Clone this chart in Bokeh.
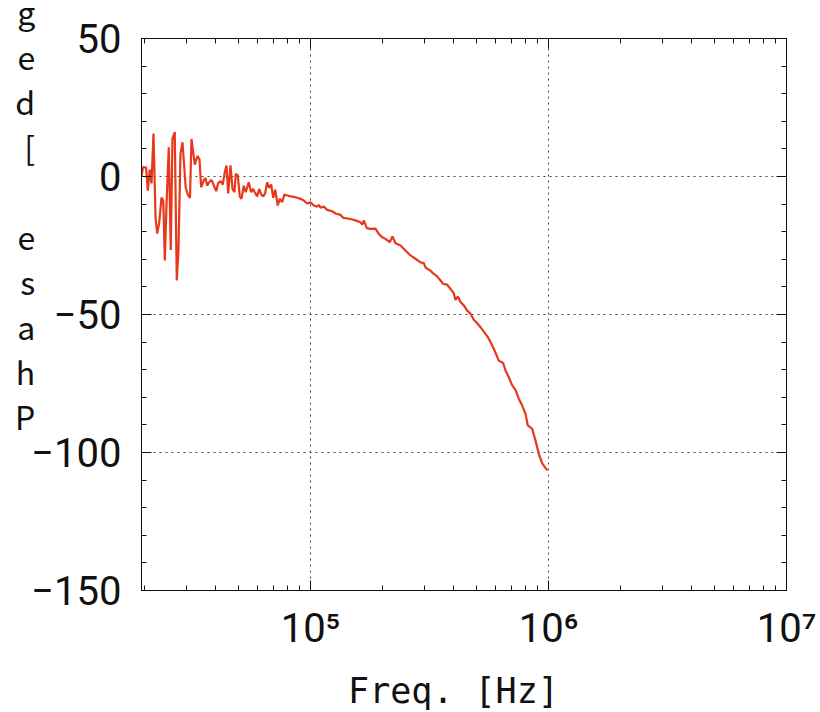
from bokeh.plotting import figure
from bokeh.models import (Range1d, FixedTicker, LogAxis, LinearAxis,
                          CustomJSTickFormatter)
from bokeh.embed import file_html
from bokeh.resources import INLINE

# ---- data ----
freq_hz = [19500, 19790, 20370, 20730, 21110, 21480, 21900, 22330, 22700, 23160,
           23660, 24070, 24430, 24830, 25390, 25880, 26310, 26900, 27430, 27880,
           28430, 28990, 29900, 30510, 31170, 31620, 32650, 33510, 34170, 34730,
           35620, 36210, 36810, 37520, 38370, 39120, 40160, 40940, 41870, 42800,
           43640, 44370, 45100, 46120, 47020, 47940, 48540, 49490, 50460, 51300,
           52450, 53450, 55030, 56330, 57430, 58320, 59700, 60870, 62060, 63270,
           64510, 65770, 67070, 68380, 69720, 71080, 72880, 74300, 76050, 77770,
           80060, 82410, 85080, 87930, 90780, 93700, 96850, 100000, 103250, 106710,
           108370, 110150, 113730, 117560, 123380, 127350, 133670, 137600, 147270, 154570,
           162260, 164960, 167490, 172420, 178680, 187530, 193640, 200120, 206590, 215380,
           221070, 227600, 238880, 250670, 263110, 276170, 289880, 299230, 304200, 309220,
           319270, 329660, 340720, 351820, 360870, 375160, 387350, 399930, 406560, 415700,
           426710, 440570, 455310, 470130, 485460, 501700, 518010, 534850, 555900, 570550,
           589100, 618280, 645190, 659750, 681080, 703880, 726770, 750260, 775370, 800580,
           818660, 854320, 881930, 910620, 940940, 987650]
phase_deg = [0.0, 3.4, 3.3, -5.1, 2.5, -2.5, 15.6, -14.7, -20.7, -16.6,
             -7.6, -8.7, -30.4, -10.5, 10.6, -26.6, 13.7, 16.1, -37.7, -26.8,
             8.2, 12.4, -3.9, -6.5, -7.8, 13.6, 4.3, 7.4, 6.2, -3.9,
             -1.4, -0.5, -3.3, -2.1, -1.2, -2.9, -5.3, -2.4, -1.7, -2.9,
             1.6, 4.0, -6.1, 4.0, -4.5, -5.7, 1.0, 0.4, -7.2, -8.1,
             -3.3, -5.7, -2.1, -5.7, -4.5, -5.7, -7.2, -4.5, -6.5, -7.2,
             -6.1, -2.1, -4.1, -2.9, -7.7, -4.8, -10.5, -8.1, -9.3, -6.5,
             -6.9, -7.2, -7.4, -7.7, -8.1, -8.7, -9.8, -9.3, -10.5, -10.9,
             -10.3, -11.3, -10.9, -12.1, -12.6, -13.4, -13.9, -15.0, -15.4, -15.9,
             -16.6, -17.4, -15.9, -18.7, -19.0, -18.9, -20.8, -22.0, -22.6, -23.8,
             -21.7, -24.2, -25.0, -26.8, -28.6, -29.8, -31.1, -31.4, -32.9, -33.4,
             -34.1, -35.3, -36.2, -37.7, -38.9, -39.2, -40.7, -42.3, -44.7, -43.5,
             -45.5, -46.7, -48.6, -49.7, -51.9, -53.2, -54.6, -56.2, -58.2, -60.0,
             -62.4, -66.7, -67.6, -70.3, -72.7, -75.7, -77.3, -80.5, -83.0, -86.0,
             -90.2, -91.4, -95.7, -100.5, -103.9, -106.5]

x_major = [1e5, 1e6, 1e7]
x_minor = [m * 10 ** e for e in (4, 5, 6) for m in range(2, 10)]
y_major = [-150, -100, -50, 0, 50]
y_minor = list(range(-150, 51, 10))
# y label as shown: letters stacked, reading bottom to top "Phase [deg"
ylabel_top_to_bottom = ["g", "e", "d", "[", " ", "e", "s", "a", "h", "P"]
xlabel = "Freq. [Hz]"

LINE_COLOR = "#e8381b"
TICK_FONT = "Roboto"
TICK_SIZE = "40px"

p = figure(x_axis_type="log", output_backend="svg", toolbar_location=None,
           frame_width=645, frame_height=552,
           min_border_left=141, min_border_top=38, min_border_right=34,
           min_border_bottom=122,
           x_range=Range1d(19500, 1e7), y_range=Range1d(-150, 50))
p.background_fill_color = "white"
p.border_fill_color = "white"
p.outline_line_color = "#111111"
p.outline_line_width = 1

x_ticker = FixedTicker(ticks=x_major, minor_ticks=x_minor)
y_ticker = FixedTicker(ticks=y_major, minor_ticks=y_minor)

x_fmt = CustomJSTickFormatter(code="""
const sup = {"0":"\u2070","1":"\u00b9","2":"\u00b2","3":"\u00b3","4":"\u2074","5":"\u2075","6":"\u2076","7":"\u2077","8":"\u2078","9":"\u2079"};
const e = Math.round(Math.log10(tick));
return "10" + String(e).split("").map(c => sup[c]).join("");
""")
y_fmt = CustomJSTickFormatter(code="""
return tick < 0 ? "\u2212" + Math.abs(tick) : String(tick);
""")


def style_axis(ax, labels=True):
    ax.axis_line_color = "#111111"
    ax.major_tick_line_color = "#111111"
    ax.minor_tick_line_color = "#111111"
    ax.major_tick_in = 10
    ax.major_tick_out = 0
    ax.minor_tick_in = 5
    ax.minor_tick_out = 0
    if labels:
        ax.major_label_text_font = TICK_FONT
        ax.major_label_text_font_size = TICK_SIZE
        ax.major_label_text_color = "#111111"
    else:
        ax.major_label_text_font_size = "0px"
        ax.major_label_text_color = None


xa = p.xaxis[0]
xa.ticker = x_ticker
xa.formatter = x_fmt
style_axis(xa)
xa.major_label_standoff = 14
xa.axis_label = xlabel + "\u00a0"
xa.axis_label_text_font = "DejaVu Sans Mono"
xa.axis_label_text_font_size = "35px"
xa.axis_label_text_font_style = "normal"
xa.axis_label_text_color = "#111111"
xa.axis_label_standoff = 16

# stacked letters: each letter followed by a spacer line (half pitch), plus
# trailing spacer lines so the centred block lands where the reference has it
stacked = []
for ch in ylabel_top_to_bottom:
    stacked += [ch, " "]
stacked = stacked[:-1] + [" "] * 9

ya = p.yaxis[0]
ya.ticker = y_ticker
ya.formatter = y_fmt
style_axis(ya)
ya.major_label_standoff = 20
ya.axis_label = "\n".join(stacked)
ya.axis_label_orientation = "horizontal"
ya.axis_label_text_font = "Noto Sans CJK JP"
ya.axis_label_text_font_size = "32px"
ya.axis_label_text_font_style = "normal"
ya.axis_label_text_color = "#111111"
ya.axis_label_text_line_height = 0.4886
ya.axis_label_text_align = "center"
ya.axis_label_standoff = -7

top = LogAxis(ticker=x_ticker)
style_axis(top, labels=False)
p.add_layout(top, "above")
right = LinearAxis(ticker=y_ticker)
style_axis(right, labels=False)
p.add_layout(right, "right")

p.xgrid.ticker = FixedTicker(ticks=x_major)
p.ygrid.ticker = FixedTicker(ticks=y_major)
for g in (p.xgrid[0], p.ygrid[0]):
    g.grid_line_color = "#444444"
    g.grid_line_dash = "2 4"
    g.grid_line_width = 1

p.line(freq_hz, phase_deg, line_color=LINE_COLOR, line_width=2.2)

open("out.html", "w").write(file_html(p, INLINE))
